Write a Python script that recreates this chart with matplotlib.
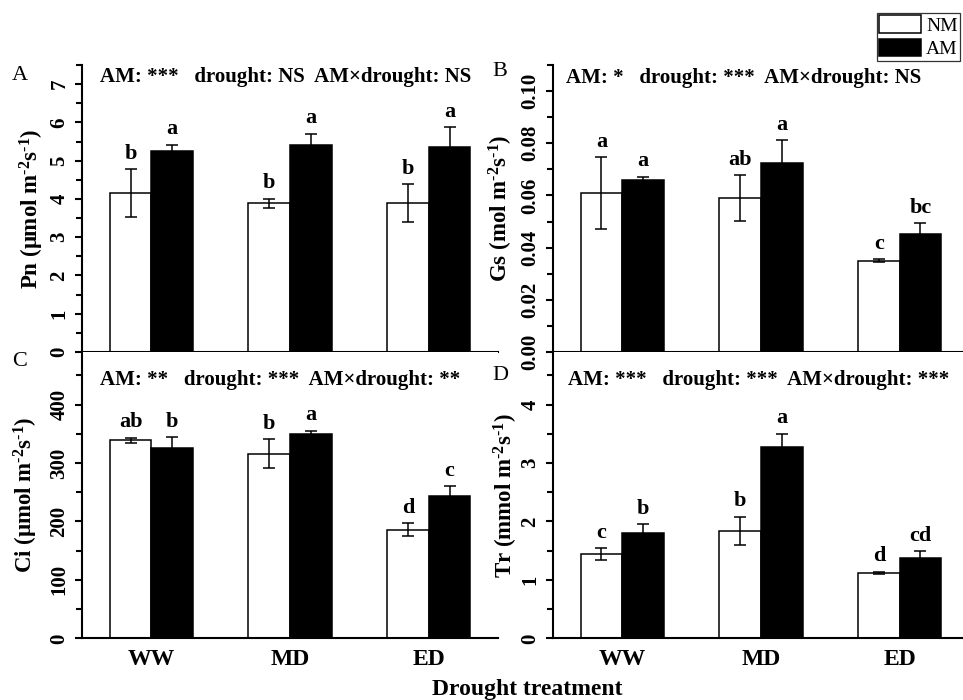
import matplotlib
matplotlib.use("Agg")
import matplotlib.pyplot as plt
from matplotlib.ticker import MultipleLocator, FormatStrFormatter
import numpy as np

plt.rcParams['font.family'] = ['Liberation Serif', 'DejaVu Serif']
plt.rcParams['mathtext.fontset'] = 'custom'
plt.rcParams['mathtext.rm'] = 'Liberation Serif:bold'
plt.rcParams['mathtext.it'] = 'Liberation Serif:bold'
plt.rcParams['mathtext.bf'] = 'Liberation Serif:bold'

GROUPS = ['WW', 'MD', 'ED']

# Net photosynthetic rate
pn_nm = [4.16, 3.89, 3.89]
pn_nm_err = [0.62, 0.12, 0.49]
pn_am = [5.26, 5.41, 5.35]
pn_am_err = [0.15, 0.30, 0.52]
pn_nm_letters = ['b', 'b', 'b']
pn_am_letters = ['a', 'a', 'a']

# Stomatal conductance
gs_nm = [0.0609, 0.0591, 0.0350]
gs_nm_err = [0.0138, 0.0087, 0.0005]
gs_am = [0.0658, 0.0724, 0.0453]
gs_am_err = [0.0014, 0.0087, 0.0040]
gs_nm_letters = ['a', 'ab', 'c']
gs_am_letters = ['a', 'a', 'bc']

# Intercellular CO2
ci_nm = [339, 316, 186]
ci_nm_err = [4, 25, 11]
ci_am = [326, 350, 244]
ci_am_err = [18, 5, 16]
ci_nm_letters = ['ab', 'b', 'd']
ci_am_letters = ['b', 'a', 'c']

# Transpiration rate
tr_nm = [1.44, 1.84, 1.12]
tr_nm_err = [0.10, 0.24, 0.02]
tr_am = [1.80, 3.28, 1.38]
tr_am_err = [0.15, 0.22, 0.11]
tr_nm_letters = ['c', 'b', 'd']
tr_am_letters = ['b', 'a', 'cd']

BAR_W = 0.3
LW = 1.5
UNIT = r' m$^{\text{-}2}$s$^{\text{-}1}$)'


def drawPanel(ax, nm, nm_err, am, am_err, nm_let, am_let, ymax, major, minor,
              ylabel, stats, label_x, bottom=False, fmt=None):
    x = np.arange(len(GROUPS))
    ax.bar(x - BAR_W / 2, nm, BAR_W, color='white', edgecolor='black',
           linewidth=1.1, label='NM', zorder=2)
    ax.bar(x + BAR_W / 2, am, BAR_W, color='black', edgecolor='black',
           linewidth=1.1, label='AM', zorder=2)
    ax.errorbar(x - BAR_W / 2, nm, yerr=nm_err, fmt='none', ecolor='black',
                elinewidth=1.1, capsize=4, capthick=1.1, zorder=3)
    ax.errorbar(x + BAR_W / 2, am, yerr=am_err, fmt='none', ecolor='black',
                elinewidth=1.1, capsize=4, capthick=1.1, zorder=3)

    # significance letters above the error bars
    for xi, v, e, t in zip(x - BAR_W / 2, nm, nm_err, nm_let):
        ax.annotate(t, (xi, v + e), xytext=(0, 4), textcoords='offset points',
                    ha='center', va='bottom', fontsize=16, fontweight='bold')
    for xi, v, e, t in zip(x + BAR_W / 2, am, am_err, am_let):
        ax.annotate(t, (xi, v + e), xytext=(0, 4), textcoords='offset points',
                    ha='center', va='bottom', fontsize=16, fontweight='bold')

    ax.set_xlim(-0.5, 2.5)
    ax.set_ylim(0, ymax)
    ax.yaxis.set_major_locator(MultipleLocator(major))
    ax.yaxis.set_minor_locator(MultipleLocator(minor))
    if fmt:
        ax.yaxis.set_major_formatter(FormatStrFormatter(fmt))
    ax.tick_params(axis='y', which='major', direction='out', length=5,
                   width=LW, labelsize=15, labelrotation=90, pad=4)
    ax.tick_params(axis='y', which='minor', direction='out', length=4, width=LW)
    for t in ax.get_yticklabels():
        t.set_fontweight('bold')
        t.set_va('center')

    ax.set_xticks(x)
    if bottom:
        ax.set_xticklabels(GROUPS, fontsize=17, fontweight='bold')
        ax.tick_params(axis='x', length=0, pad=8)
    else:
        ax.set_xticklabels([])
        ax.tick_params(axis='x', length=0)

    for s in ['top', 'right']:
        ax.spines[s].set_visible(False)
    for s in ['left', 'bottom']:
        ax.spines[s].set_linewidth(LW)

    ax.set_ylabel(ylabel, fontsize=16.5, fontweight='bold', va='center')
    ax.yaxis.set_label_coords(label_x, 0.5)
    ax.text(stats[0], stats[1], stats[2], transform=ax.transAxes,
            ha='left', va='center', fontsize=15, fontweight='bold')


def createGraph():
    fig = plt.figure(figsize=(9.63, 7.0), dpi=100)
    ax_a = fig.add_axes([0.0852, 0.4971, 0.432, 0.41])
    ax_b = fig.add_axes([0.5742, 0.4971, 0.432, 0.41])
    ax_c = fig.add_axes([0.0852, 0.0881, 0.432, 0.409])
    ax_d = fig.add_axes([0.5742, 0.0881, 0.432, 0.409])

    drawPanel(ax_a, pn_nm, pn_nm_err, pn_am, pn_am_err, pn_nm_letters, pn_am_letters,
              7.5, 1, 0.5, 'Pn (μmol' + UNIT,
              (0.043, 0.958, 'AM: ***   drought: NS  AM×drought: NS'), -0.12)
    drawPanel(ax_b, gs_nm, gs_nm_err, gs_am, gs_am_err, gs_nm_letters, gs_am_letters,
              0.11, 0.02, 0.01, 'Gs (mol' + UNIT,
              (0.031, 0.955, 'AM: *   drought: ***  AM×drought: NS'), -0.125, fmt='%.2f')
    drawPanel(ax_c, ci_nm, ci_nm_err, ci_am, ci_am_err, ci_nm_letters, ci_am_letters,
              490, 100, 50, 'Ci (μmol' + UNIT,
              (0.043, 0.902, 'AM: **   drought: ***  AM×drought: **'), -0.135, bottom=True)
    drawPanel(ax_d, tr_nm, tr_nm_err, tr_am, tr_am_err, tr_nm_letters, tr_am_letters,
              4.9, 1, 0.5, 'Tr (mmol' + UNIT,
              (0.036, 0.902, 'AM: ***   drought: ***  AM×drought: ***'), -0.113, bottom=True)

    # panel tags
    fig.text(20 / 963, 1 - 76 / 700, 'A', ha='center', va='center', fontsize=16)
    fig.text(500 / 963, 1 - 72 / 700, 'B', ha='center', va='center', fontsize=16)
    fig.text(20 / 963, 1 - 362 / 700, 'C', ha='center', va='center', fontsize=16)
    fig.text(500 / 963, 1 - 375 / 700, 'D', ha='center', va='center', fontsize=16)

    fig.text(527 / 963, 1 - 690 / 700, 'Drought treatment', ha='center', va='center',
             fontsize=17, fontweight='bold')

    handles, labels = ax_b.get_legend_handles_labels()
    leg = fig.legend(handles, labels, loc='upper right',
                     bbox_to_anchor=(960 / 963, 1 - 13 / 700), fontsize=14,
                     handlelength=2.15, handleheight=1.0, labelspacing=0.22,
                     borderpad=0.12, handletextpad=0.25, borderaxespad=0,
                     fancybox=False, framealpha=1)
    leg.get_frame().set_edgecolor('#333333')
    leg.get_frame().set_linewidth(0.9)

    fig.savefig('out.png', dpi=100)


if __name__ == '__main__':
    createGraph()
